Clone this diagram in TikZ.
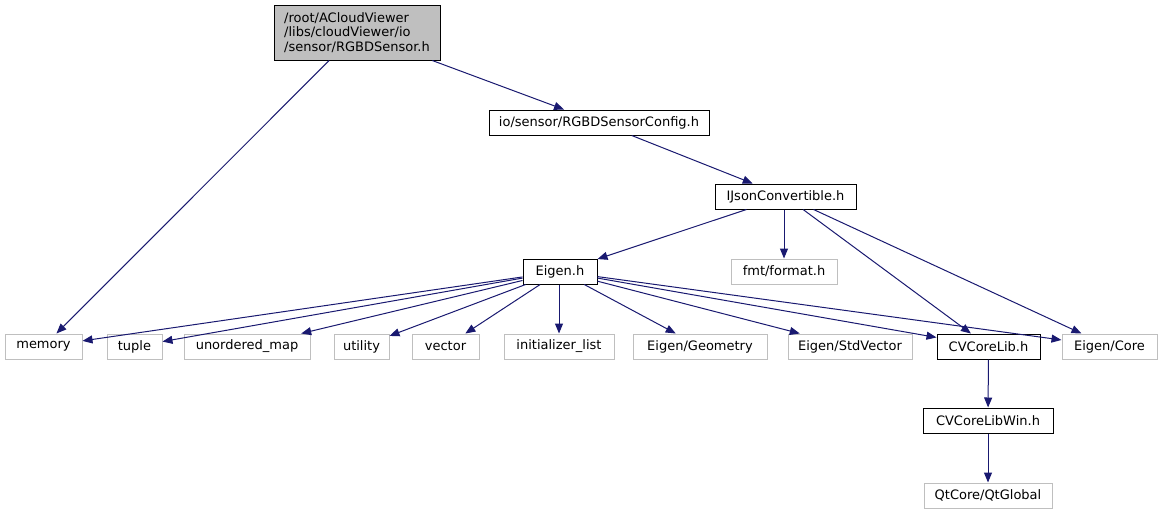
\documentclass[tikz,border=0pt]{standalone}
\usepackage{fontspec}
\setmainfont{DejaVu Sans}
\usetikzlibrary{arrows.meta}
\definecolor{edgeblue}{HTML}{191970}
\definecolor{lightbox}{HTML}{BFBFBF}
\definecolor{rootfill}{HTML}{BFBFBF}
\tikzset{
  filebox/.style={draw=black, line width=1pt, fill=white, inner sep=0pt, font=\fontsize{13}{14.5}\selectfont, text=black},
  extbox/.style={draw=lightbox, line width=1pt, fill=white, inner sep=0pt, font=\fontsize{13}{14.5}\selectfont, text=black},
  rootbox/.style={draw=black, line width=1pt, fill=rootfill, inner sep=0pt, font=\fontsize{13}{14.5}\selectfont, align=left},
  dep/.style={draw=edgeblue, line width=1pt, -{Triangle[length=10pt,width=8pt]}}
}
\begin{document}
\begin{tikzpicture}[x=1pt,y=-1pt]
\useasboundingbox (0,0) rectangle (1162,515);
\node[rootbox, minimum width=166pt, minimum height=55pt] (root) at (357,32.5) {/root/ACloudViewer\\/libs/cloudViewer/io\\/sensor/RGBDSensor.h};
\node[filebox, minimum width=220pt, minimum height=25pt] (config) at (599,122.5) {io/sensor/RGBDSensorConfig.h};
\node[filebox, minimum width=141pt, minimum height=25pt] (ijson) at (785.5,196.5) {IJsonConvertible.h};
\node[filebox, minimum width=74pt, minimum height=25pt] (eigen) at (560,271.5) {Eigen.h};
\node[extbox, minimum width=106pt, minimum height=25pt] (fmt) at (784,271.5) {fmt/format.h};
\node[extbox, minimum width=77pt, minimum height=25pt] (memory) at (43.5,346.5) {memory};
\node[extbox, minimum width=55pt, minimum height=25pt] (tuple) at (134.5,346.5) {tuple};
\node[extbox, minimum width=126pt, minimum height=25pt] (umap) at (247,346.5) {unordered\_map};
\node[extbox, minimum width=55pt, minimum height=25pt] (utility) at (361.5,346.5) {utility};
\node[extbox, minimum width=67pt, minimum height=25pt] (vector) at (445.5,346.5) {vector};
\node[extbox, minimum width=110pt, minimum height=25pt] (init) at (559,346.5) {initializer\_list};
\node[extbox, minimum width=134pt, minimum height=25pt] (geom) at (700,346.5) {Eigen/Geometry};
\node[extbox, minimum width=124pt, minimum height=25pt] (stdvec) at (850,346.5) {Eigen/StdVector};
\node[filebox, minimum width=103pt, minimum height=25pt] (cvcore) at (988.5,346.5) {CVCoreLib.h};
\node[extbox, minimum width=95pt, minimum height=25pt] (ecore) at (1109.5,346.5) {Eigen/Core};
\node[filebox, minimum width=130pt, minimum height=25pt] (cvwin) at (988,420.5) {CVCoreLibWin.h};
\node[extbox, minimum width=128pt, minimum height=25pt] (qt) at (988,495.5) {QtCore/QtGlobal};

\draw[dep] (root) -- (memory);
\draw[dep] (root) -- (config);
\draw[dep] (config) -- (ijson);
\draw[dep] (ijson) -- (eigen);
\draw[dep] (ijson.south -| fmt) -- (fmt);
\draw[dep] (ijson) -- (cvcore);
\draw[dep] (ijson) -- (ecore);
\draw[dep] (eigen) -- (memory);
\draw[dep] (eigen) -- (tuple);
\draw[dep] (eigen) -- (umap);
\draw[dep] (eigen) -- (utility);
\draw[dep] (eigen) -- (vector);
\draw[dep] (eigen.south -| init) -- (init);
\draw[dep] (eigen) -- (geom);
\draw[dep] (eigen) -- (stdvec);
\draw[dep] (eigen) -- (cvcore);
\draw[dep] (eigen) -- (ecore);
\draw[dep] (cvcore) -- (cvwin);
\draw[dep] (cvwin) -- (qt);
\end{tikzpicture}
\end{document}
